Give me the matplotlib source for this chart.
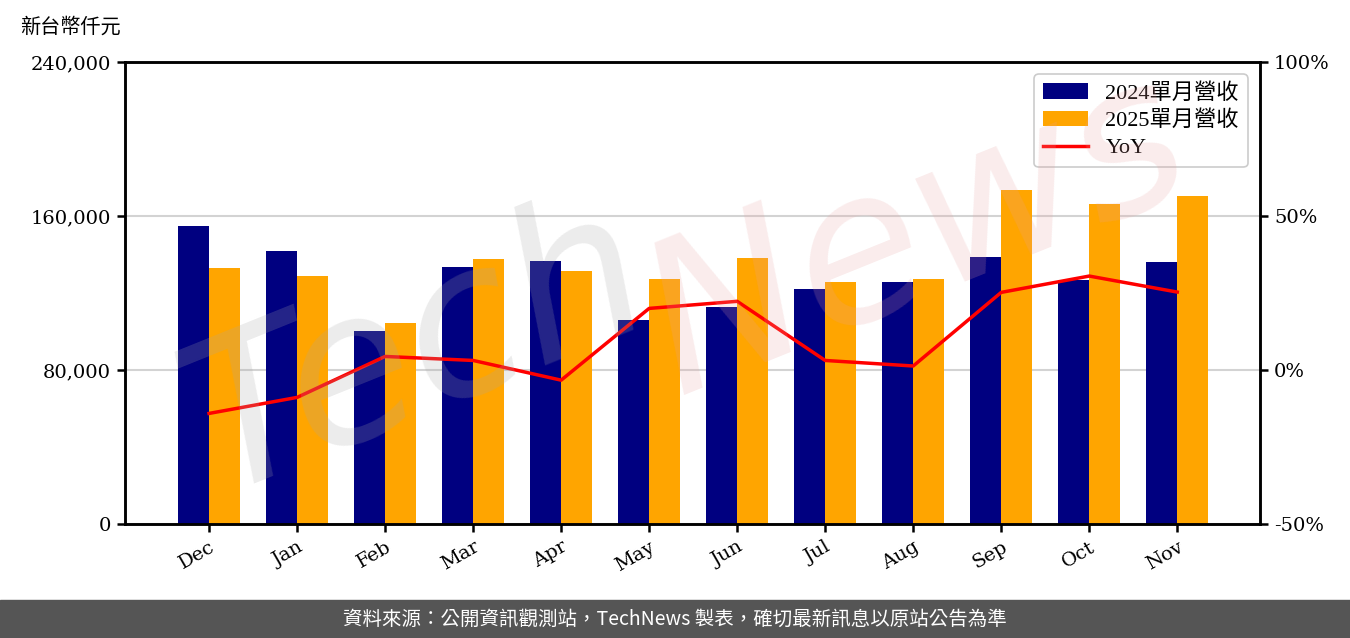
import matplotlib
matplotlib.use("Agg")
import matplotlib.pyplot as plt
import numpy as np

# ── data ───────────────────────────────────────────────────────────────
months = ["Dec", "Jan", "Feb", "Mar", "Apr", "May",
          "Jun", "Jul", "Aug", "Sep", "Oct", "Nov"]
rev_2024 = [154800, 141800, 100300, 133500, 136600, 106000,
            112700, 122100, 125700, 138700, 126800, 136100]
rev_2025 = [133000, 128800, 104400, 137700, 131400, 127300,
            138200, 125700, 127300, 173500, 166200, 170400]
yoy = [-14.1, -8.9, 4.4, 3.1, -3.3, 20.0,
       22.3, 3.1, 1.3, 25.2, 30.5, 25.3]

left_ticks = [0, 80000, 160000, 240000]
right_ticks = [-50, 0, 50, 100]

SERIF = ["DejaVu Serif"]
CJK = ["Liberation Serif", "Noto Sans CJK TC", "DejaVu Sans"]
plt.rcParams["font.family"] = CJK

fig = plt.figure(figsize=(13.5, 6.38), dpi=100)
ax = fig.add_axes([125 / 1350, 1 - 524 / 638, 1135 / 1350, 462 / 638])

x = np.arange(len(months))
w = 0.35
ax.bar(x - w / 2, rev_2024, w, color="#000080", label="2024單月營收", zorder=2)
ax.bar(x + w / 2, rev_2025, w, color="#FFA500", label="2025單月營收", zorder=2)
ax.set_ylim(0, 240000)
ax.set_xlim(-0.955, 11.94)
ax.set_yticks(left_ticks)
ax.set_yticklabels([f"{v:,}" for v in left_ticks], family=SERIF, fontsize=14)
ax.set_xticks(x)
ax.set_xticklabels(months, rotation=30, ha="right", family=SERIF, fontsize=14,
                   rotation_mode="anchor")
ax.grid(axis="y", color="#d3d3d3", linewidth=1.5, zorder=0)
ax.set_axisbelow(True)

ax2 = ax.twinx()
line, = ax2.plot(x, yoy, color="red", linewidth=2.5, label="YoY", zorder=3)
ax2.set_ylim(-50, 100)
ax2.set_yticks(right_ticks)
ax2.set_yticklabels([f"{v}%" for v in right_ticks], family=SERIF, fontsize=14)

for a in (ax, ax2):
    for s in a.spines.values():
        s.set_linewidth(1.8)
        s.set_color("black")
    a.tick_params(direction="out", length=6, width=1.8, pad=4)

# watermark (faint, drawn over the bars like the original)
fig.text(0.31, 0.45, "Tech", fontsize=150, color="#a8a8a8", alpha=0.22,
         rotation=22, ha="center", va="center", style="italic",
         family=["DejaVu Sans"], zorder=5)
fig.text(0.68, 0.63, "News", fontsize=150, color="#e8a0a0", alpha=0.2,
         rotation=22, ha="center", va="center", style="italic",
         family=["DejaVu Sans"], zorder=5)

h1, l1 = ax.get_legend_handles_labels()
leg = ax2.legend(h1 + [line], l1 + ["YoY"], loc="upper right",
                 fontsize=16, framealpha=1, edgecolor="#cccccc",
                 labelspacing=0.3, handlelength=2.0, borderaxespad=0.55)
leg.get_frame().set_linewidth(1.2)

fig.text(20 / 1350, 1 - 27 / 638, "新台幣仟元", fontsize=14.5,
         ha="left", va="center", family=["Noto Sans CJK TC"])

# footer band
fig.patches.append(plt.Rectangle((0, 0), 1, 38 / 638, transform=fig.transFigure,
                                 color="#555555", zorder=0))
fig.text(0.5, 19 / 638, "資料來源：公開資訊觀測站，TechNews 製表，確切最新訊息以原站公告為準",
         color="white", fontsize=14, ha="center", va="center",
         family=["Noto Sans CJK TC", "DejaVu Sans"])

fig.savefig("out.png", dpi=100)
